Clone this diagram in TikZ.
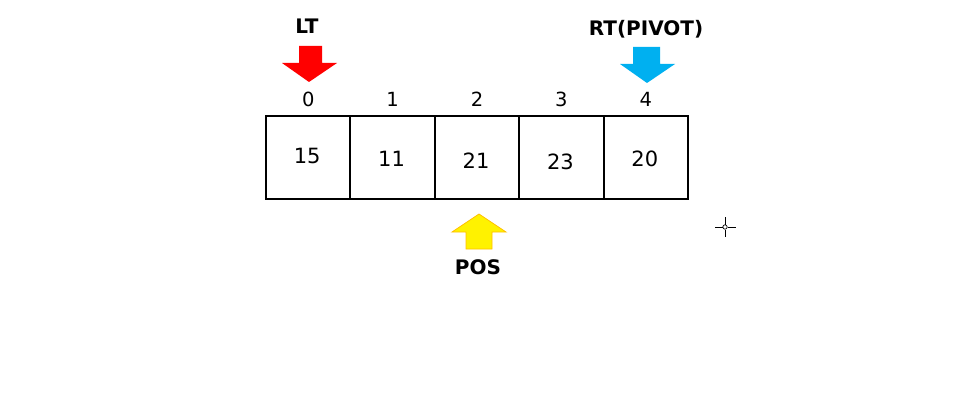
\documentclass[tikz,border=0pt]{standalone}
\usepackage{fontspec}
\setmainfont{DejaVu Sans}
\begin{document}
\begin{tikzpicture}[x=1pt,y=-1pt,
  cell/.style={draw=black,line width=2pt,minimum width=84.4pt,minimum height=83pt,inner sep=0pt},
  num/.style={inner sep=0pt,font=\fontsize{21}{21}\selectfont},
  idx/.style={inner sep=0pt,font=\fontsize{19.5}{19.5}\selectfont},
  lbl/.style={inner sep=0pt,font=\bfseries\fontsize{20}{20}\selectfont},
  cursor/.style={line width=0.7pt,black}]
\useasboundingbox (0,0) rectangle (960,401);
\fill[white] (0,0) rectangle (960,401);
\foreach \v/\yy [count=\i from 0] in {15/156,11/159,21/161,23/162,20/159}{
  \node[cell] (b\i) at ({266+84.4*(\i+0.5)},157.5) {};
  \node[num] (v\i) at ({266+84.4*(\i+0.5)-1},\yy) {\v};
  \node[idx] (n\i) at ({266+84.4*(\i+0.5)},99) {\i};
}
% LT arrow
\fill[red] (299,46) -- (322,46) -- (322,63) -- (337,63) -- (309,82) -- (282,63) -- (299,63) -- cycle;
\node[lbl] (lt) at (307,26) {LT};
% RT arrow
\fill[fill={rgb,255:red,0;green,176;blue,240}] (633,47) -- (660,47) -- (660,64) -- (675,64) -- (647,83) -- (620,64) -- (633,64) -- cycle;
\node[lbl] (rt) at (646,29) {RT(PIVOT)};
% POS arrow
\filldraw[fill=yellow,draw={rgb,255:red,255;green,192;blue,0},line width=0.8pt] (479,214) -- (506,232) -- (492,232) -- (492,249) -- (466,249) -- (466,232) -- (452,232) -- cycle;
\node[lbl] (pos) at (478,267) {POS};
% cursor mark
\draw[cursor] (715,227) -- (722.5,227) (727.5,227) -- (736,227) (725,217) -- (725,224.5) (725,229.5) -- (725,237);
\draw[cursor] (725,227) circle (2.2);
\end{tikzpicture}
\end{document}
